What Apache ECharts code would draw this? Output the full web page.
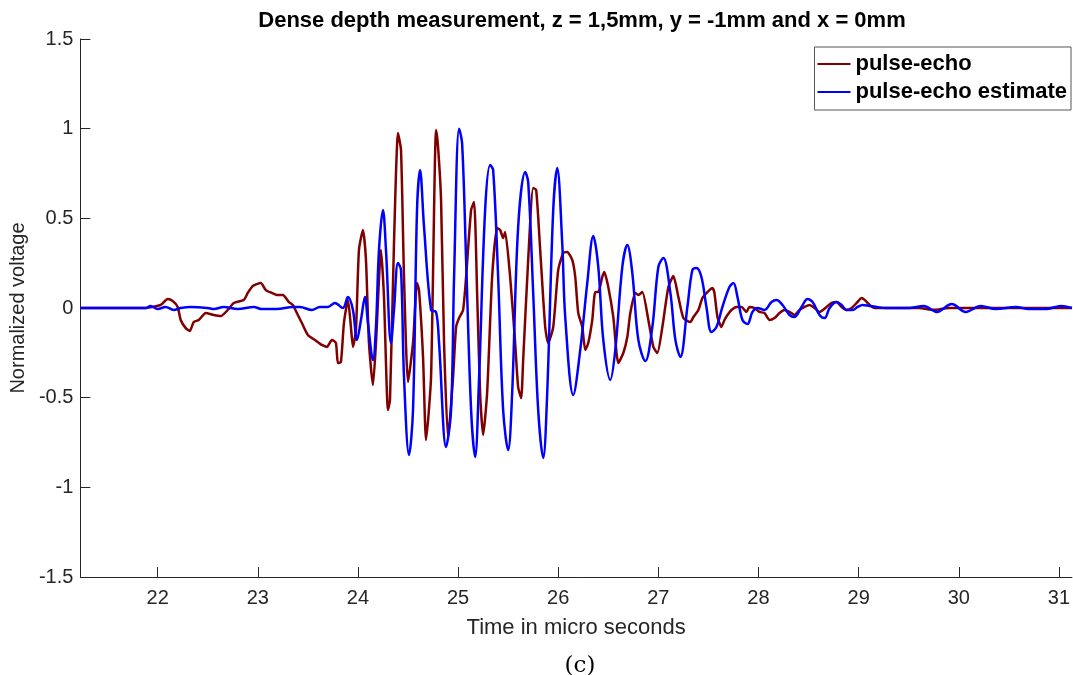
<!DOCTYPE html>
<html>
<head>
<meta charset="utf-8">
<title>Dense depth measurement</title>
<script src="https://cdn.jsdelivr.net/npm/echarts@6/dist/echarts.min.js"></script>
<style>
  html, body { margin: 0; padding: 0; background: #fff; }
  #chart { width: 1073px; height: 675px; }
</style>
</head>
<body>
<div id="chart"></div>
<script>
// measured trace, [time in micro seconds, normalized voltage]
const pulseEcho = [
  [21.23, 0], [21.88, 0], [21.94, 0.005], [22.03, 0.017], [22.10, 0.05], [22.15, 0.039],
  [22.20, 0.006], [22.23, -0.067], [22.28, -0.112], [22.32, -0.128], [22.36, -0.078],
  [22.41, -0.067], [22.48, -0.028], [22.56, -0.039], [22.63, -0.045], [22.70, -0.011],
  [22.76, 0.028], [22.86, 0.045], [22.90, 0.084], [22.95, 0.123], [23.03, 0.139],
  [23.08, 0.1], [23.14, 0.084], [23.19, 0.072], [23.25, 0.072], [23.31, 0.033],
  [23.35, 0.017], [23.39, -0.028], [23.44, -0.084], [23.50, -0.151], [23.57, -0.178],
  [23.64, -0.206], [23.69, -0.217], [23.74, -0.178], [23.78, -0.195], [23.80, -0.307],
  [23.83, -0.301], [23.86, -0.084], [23.90, 0.045], [23.93, -0.106], [23.95, -0.217],
  [23.98, -0.123], [24.01, 0.323], [24.05, 0.435], [24.08, 0.268], [24.11, -0.195],
  [24.15, -0.429], [24.18, -0.195], [24.23, 0.323], [24.26, 0.061], [24.30, -0.569],
  [24.32, -0.513], [24.36, 0.362], [24.40, 0.976], [24.43, 0.881], [24.46, 0.173],
  [24.50, -0.413], [24.55, -0.195], [24.59, 0.139], [24.61, 0.1], [24.65, -0.273],
  [24.68, -0.736], [24.73, -0.385], [24.78, 0.993], [24.80, 0.898], [24.83, 0.602],
  [24.86, -0.195], [24.90, -0.725], [24.95, -0.385], [24.98, -0.106], [25.01, -0.056],
  [25.05, -0.011], [25.08, 0.173], [25.13, 0.546], [25.16, 0.591], [25.19, 0.084],
  [25.22, -0.474], [25.25, -0.708], [25.29, -0.474], [25.34, 0.173], [25.39, 0.446],
  [25.42, 0.435], [25.45, 0.39], [25.47, 0.424], [25.52, 0.173], [25.57, -0.195],
  [25.60, -0.441], [25.63, -0.502], [25.65, -0.29], [25.70, 0.268], [25.75, 0.669],
  [25.78, 0.658], [25.82, 0.323], [25.87, -0.106], [25.90, -0.195], [25.95, -0.106],
  [26.00, 0.212], [26.05, 0.307], [26.09, 0.312], [26.14, 0.268], [26.17, 0.173],
  [26.20, -0.028], [26.24, -0.106], [26.27, -0.234], [26.30, -0.195], [26.34, -0.067],
  [26.37, 0.089], [26.40, 0.089], [26.44, 0.173], [26.46, 0.201], [26.50, 0.117],
  [26.55, -0.05], [26.60, -0.307], [26.65, -0.251], [26.69, -0.162], [26.72, -0.028],
  [26.77, 0.084], [26.80, 0.072], [26.84, 0.089], [26.90, -0.067], [26.95, -0.217],
  [26.99, -0.251], [27.04, -0.106], [27.10, 0.117], [27.15, 0.178], [27.20, 0.061],
  [27.25, -0.056], [27.32, -0.078], [27.35, -0.05], [27.40, -0.011], [27.44, 0.056],
  [27.49, 0.089], [27.54, 0.112], [27.56, 0.084], [27.59, -0.05], [27.63, -0.106],
  [27.66, -0.067], [27.69, -0.039], [27.73, -0.011], [27.78, 0.006], [27.83, 0.006],
  [27.88, -0.022], [27.91, 0.006], [27.96, 0], [28.01, -0.022], [28.06, -0.028],
  [28.11, -0.067], [28.16, -0.056], [28.21, -0.028], [28.26, -0.011], [28.31, -0.022],
  [28.36, -0.039], [28.41, -0.011], [28.46, 0.006], [28.51, 0.017], [28.56, 0],
  [28.61, -0.022], [28.68, 0.006], [28.73, 0.028], [28.78, 0.033], [28.83, 0.006],
  [28.88, -0.011], [28.93, 0], [28.98, 0.028], [29.03, 0.056], [29.06, 0.045],
  [29.11, 0.017], [29.16, 0], [29.60, 0], [29.75, -0.01], [29.90, 0], [31.13, 0]
];

// model estimate, [time in micro seconds, normalized voltage]
const pulseEchoEstimate = [
  [21.23, 0], [21.88, 0], [21.93, 0.011], [22.00, -0.006], [22.08, 0.006], [22.16, -0.011],
  [22.23, 0], [22.33, 0.006], [22.50, 0], [22.56, -0.006], [22.66, 0.006], [22.80, -0.006],
  [22.96, 0.006], [23.04, -0.006], [23.19, -0.006], [23.35, 0.006], [23.42, 0.006],
  [23.54, -0.011], [23.62, 0.006], [23.70, 0.006], [23.77, 0.028], [23.85, 0],
  [23.90, 0.061], [23.95, -0.011], [23.99, -0.178], [24.03, -0.067], [24.07, 0.061],
  [24.10, -0.084], [24.15, -0.29], [24.18, -0.106], [24.21, 0.323], [24.25, 0.546],
  [24.28, 0.323], [24.33, -0.195], [24.36, -0.011], [24.40, 0.251], [24.43, 0.212],
  [24.46, -0.385], [24.51, -0.82], [24.55, -0.569], [24.59, 0.546], [24.62, 0.77],
  [24.66, 0.452], [24.73, -0.011], [24.78, -0.022], [24.81, -0.195], [24.88, -0.775],
  [24.93, -0.569], [24.96, 0.173], [25.01, 1.0], [25.04, 0.92], [25.08, 0.268],
  [25.13, -0.569], [25.17, -0.831], [25.21, -0.385], [25.27, 0.546], [25.32, 0.797],
  [25.35, 0.77], [25.40, 0.173], [25.45, -0.569], [25.50, -0.792], [25.54, -0.474],
  [25.60, 0.452], [25.67, 0.758], [25.70, 0.703], [25.75, 0.084], [25.80, -0.569],
  [25.85, -0.836], [25.89, -0.474], [25.95, 0.546], [25.99, 0.781], [26.04, 0.362],
  [26.07, -0.05], [26.15, -0.485], [26.22, -0.234], [26.29, 0.139], [26.35, 0.401],
  [26.40, 0.229], [26.45, -0.178], [26.52, -0.401], [26.57, -0.234], [26.64, 0.229],
  [26.69, 0.351], [26.74, 0.195], [26.80, -0.178], [26.87, -0.296], [26.94, -0.106],
  [27.00, 0.229], [27.05, 0.279], [27.12, 0.084], [27.17, -0.178], [27.22, -0.273],
  [27.29, 0.006], [27.34, 0.212], [27.38, 0.223], [27.43, 0.173], [27.48, 0.006],
  [27.53, -0.134], [27.58, -0.106], [27.64, 0.006], [27.71, 0.117], [27.75, 0.139],
  [27.79, 0.061], [27.84, -0.067], [27.89, -0.089], [27.94, -0.022], [27.99, 0],
  [28.06, -0.011], [28.13, 0.033], [28.18, 0.045], [28.24, 0.017], [28.31, -0.039],
  [28.36, -0.05], [28.43, 0.006], [28.49, 0.05], [28.54, 0.033], [28.61, -0.039],
  [28.66, -0.056], [28.71, 0], [28.78, 0.033], [28.83, 0.017], [28.88, -0.011],
  [28.94, -0.011], [28.99, 0.006], [29.04, 0.017], [29.11, 0.011], [29.18, 0.006],
  [29.27, 0], [29.50, 0], [29.65, 0.011], [29.78, -0.022], [29.93, 0.022], [30.07, -0.022],
  [30.22, 0.011], [30.37, -0.006], [30.57, 0.006], [30.70, -0.006], [30.87, -0.006],
  [31.02, 0.011], [31.13, 0]
];

const xTicks = [22, 23, 24, 25, 26, 27, 28, 29, 30, 31];
const seriesNames = ['pulse-echo', 'pulse-echo estimate'];

const chart = echarts.init(document.getElementById('chart'));

const axisColor = '#262626';
const font = 'Liberation Sans, Arial, Helvetica, sans-serif';

const option = {
  animation: false,
  backgroundColor: '#fff',
  textStyle: { fontFamily: font },
  title: [
    {
      text: 'Dense depth measurement, z = 1,5mm, y = -1mm and x = 0mm',
      left: 577,
      top: 5,
      textAlign: 'center',
      textStyle: { fontSize: 22, fontWeight: 'bold', color: '#000', fontFamily: font },
    },
    {
      text: '(c)',
      left: 575,
      top: 650,
      textAlign: 'center',
      textStyle: { fontSize: 23, fontWeight: 'normal', color: '#000', fontFamily: 'DejaVu Serif, Liberation Serif, serif' },
    },
  ],
  legend: {
    data: seriesNames,
    orient: 'vertical',
    right: 2,
    top: 47,
    padding: [5, 4, 6, 3],
    itemGap: 4,
    itemWidth: 33,
    itemHeight: 2,
    icon: 'rect',
    backgroundColor: '#fff',
    borderColor: '#555',
    borderWidth: 1,
    textStyle: { fontSize: 22, fontWeight: 'bold', color: '#000', lineHeight: 24 },
  },
  grid: {
    left: 78,
    right: 0,
    top: 39,
    bottom: 98,
    containLabel: false,
  },
  xAxis: {
    type: 'value',
    min: 21.228,
    max: 31.13,
    name: 'Time in micro seconds',
    nameLocation: 'middle',
    nameGap: 40,
    nameTextStyle: { fontSize: 22, color: axisColor },
    splitLine: { show: false },
    axisLine: { show: true, onZero: false, lineStyle: { color: axisColor, width: 1 } },
    axisTick: { show: true, inside: true, length: 10, customValues: xTicks, lineStyle: { color: axisColor } },
    axisLabel: { customValues: xTicks, fontSize: 20, color: axisColor, margin: 11 },
  },
  yAxis: {
    type: 'value',
    min: -1.5,
    max: 1.5,
    interval: 0.5,
    name: 'Normalized voltage',
    nameLocation: 'middle',
    nameGap: 46,
    nameTextStyle: { fontSize: 20, color: axisColor },
    splitLine: { show: false },
    axisLine: { show: true, onZero: false, lineStyle: { color: axisColor, width: 1 } },
    axisTick: { show: true, inside: true, length: 10, lineStyle: { color: axisColor } },
    axisLabel: { fontSize: 20, color: axisColor, margin: 7 },
  },
  series: [
    {
      name: seriesNames[0],
      type: 'line',
      data: pulseEcho,
      showSymbol: false,
      smooth: 0.2,
      color: '#800000',
      lineStyle: { width: 2.5, color: '#800000' },
    },
    {
      name: seriesNames[1],
      type: 'line',
      data: pulseEchoEstimate,
      showSymbol: false,
      smooth: 0.35,
      color: '#0000ff',
      lineStyle: { width: 2.5, color: '#0000ff' },
    },
  ],
};

chart.setOption(option);
</script>
</body>
</html>
